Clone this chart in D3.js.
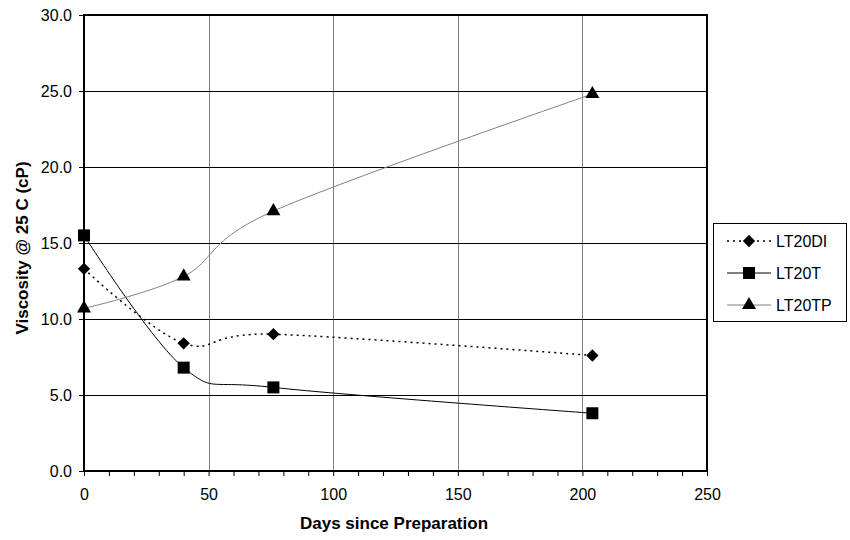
<!DOCTYPE html>
<html>
<head>
<meta charset="utf-8">
<script src="https://cdn.jsdelivr.net/npm/d3@7"></script>
<style>
  body { margin: 0; background: #fff; }
  svg text { font-family: "Liberation Sans", Arial, sans-serif; fill: #000; }
</style>
</head>
<body>
<div id="chart"></div>
<script>
// ── Data ────────────────────────────────────────────────────────────────────
const days = [0, 40, 76, 204];
const seriesNames = ["LT20DI", "LT20T", "LT20TP"];
const lt20di = [13.3, 8.4, 9.0, 7.6];
const lt20t = [15.5, 6.8, 5.5, 3.8];
const lt20tp = [10.7, 12.8, 17.1, 24.8];
const xTicks = [0, 50, 100, 150, 200, 250];
const yTicks = [0, 5, 10, 15, 20, 25, 30];

const W = 850, H = 540;
const plot = { left: 84, top: 15, right: 707, bottom: 471 };

const svg = d3.select("#chart").append("svg")
    .attr("width", W).attr("height", H);

const x = d3.scaleLinear().domain([0, 250]).range([plot.left, plot.right]);
const y = d3.scaleLinear().domain([0, 30]).range([plot.bottom, plot.top]);

// ── Grid ────────────────────────────────────────────────────────────────────
svg.append("g").selectAll("line")
    .data(xTicks.slice(1, -1))
    .enter().append("line")
    .attr("x1", d => Math.round(x(d)) + 0.5).attr("x2", d => Math.round(x(d)) + 0.5)
    .attr("y1", plot.top).attr("y2", plot.bottom)
    .attr("stroke", "#808080").attr("stroke-width", 1);

svg.append("g").selectAll("line")
    .data(yTicks.slice(1, -1))
    .enter().append("line")
    .attr("x1", plot.left).attr("x2", plot.right)
    .attr("y1", d => Math.round(y(d)) + 0.5).attr("y2", d => Math.round(y(d)) + 0.5)
    .attr("stroke", "#000").attr("stroke-width", 1);

// ── Axes ────────────────────────────────────────────────────────────────────
const xAxis = d3.axisBottom(x)
    .tickValues(d3.range(0, 251, 10))
    .tickSize(5)
    .tickFormat(d => xTicks.includes(d) ? d : "");
const gx = svg.append("g")
    .attr("transform", `translate(0,${plot.bottom})`)
    .call(xAxis);
gx.select(".domain").remove();
gx.selectAll(".tick line").attr("stroke", "#000");
gx.selectAll(".tick text")
    .attr("y", 18)
    .style("font-size", "16px");

const yAxis = d3.axisLeft(y)
    .tickValues(yTicks)
    .tickSize(5)
    .tickFormat(d3.format(".1f"));
const gy = svg.append("g")
    .attr("transform", `translate(${plot.left},0)`)
    .call(yAxis);
gy.select(".domain").remove();
gy.selectAll(".tick line").attr("stroke", "#000");
gy.selectAll(".tick text")
    .attr("x", -12)
    .style("font-size", "16px");

// plot frame
svg.append("rect")
    .attr("x", plot.left).attr("y", plot.top)
    .attr("width", plot.right - plot.left)
    .attr("height", plot.bottom - plot.top)
    .attr("fill", "none")
    .attr("stroke", "#000").attr("stroke-width", 2);

// ── Series ──────────────────────────────────────────────────────────────────
const styles = {
    LT20DI: { values: lt20di, color: "#000", width: 1.5, dash: "2,4", symbol: d3.symbolSquare, size: 76, rot: 45 },
    LT20T:  { values: lt20t,  color: "#000", width: 1,   dash: null,  symbol: d3.symbolSquare,  size: 144, rot: 0 },
    LT20TP: { values: lt20tp, color: "#808080", width: 1, dash: null, symbol: d3.symbolTriangle, size: 85, rot: 0 }
};

const line = d3.line()
    .x(d => x(d[0]))
    .y(d => y(d[1]))
    .curve(d3.curveCardinal.tension(0));

seriesNames.forEach(name => {
    const s = styles[name];
    const pts = days.map((d, i) => [d, s.values[i]]);
    svg.append("path")
        .datum(pts)
        .attr("d", line)
        .attr("fill", "none")
        .attr("stroke", s.color)
        .attr("stroke-width", s.width)
        .attr("stroke-dasharray", s.dash);
});

seriesNames.forEach(name => {
    const s = styles[name];
    const pts = days.map((d, i) => [d, s.values[i]]);
    svg.append("g").selectAll("path")
        .data(pts)
        .enter().append("path")
        .attr("d", d3.symbol().type(s.symbol).size(s.size))
        .attr("transform", d => `translate(${x(d[0])},${y(d[1])}) rotate(${s.rot})`)
        .attr("fill", "#000");
});

// ── Axis titles ─────────────────────────────────────────────────────────────
svg.append("text")
    .attr("x", 394)
    .attr("y", 529)
    .attr("text-anchor", "middle")
    .style("font-size", "17px")
    .style("font-weight", "bold")
    .text("Days since Preparation");

svg.append("text")
    .attr("transform", `translate(28,248) rotate(-90)`)
    .attr("text-anchor", "middle")
    .style("font-size", "17px")
    .style("font-weight", "bold")
    .text("Viscosity @ 25 C (cP)");

// ── Legend ──────────────────────────────────────────────────────────────────
const legend = svg.append("g");
legend.append("rect")
    .attr("x", 713.5).attr("y", 223.5)
    .attr("width", 133).attr("height", 98)
    .attr("fill", "#fff")
    .attr("stroke", "#000").attr("stroke-width", 1);

seriesNames.forEach((name, i) => {
    const s = styles[name];
    const ly = 241 + i * 32;
    legend.append("line")
        .attr("x1", 727).attr("x2", 771)
        .attr("y1", ly).attr("y2", ly)
        .attr("stroke", s.color)
        .attr("stroke-width", s.width)
        .attr("stroke-dasharray", s.dash);
    legend.append("path")
        .attr("d", d3.symbol().type(s.symbol).size(s.size))
        .attr("transform", `translate(749,${ly}) rotate(${s.rot})`)
        .attr("fill", "#000");
    legend.append("text")
        .attr("x", 776).attr("y", ly)
        .attr("dy", "0.35em")
        .style("font-size", "16px")
        .text(name);
});
</script>
</body>
</html>
